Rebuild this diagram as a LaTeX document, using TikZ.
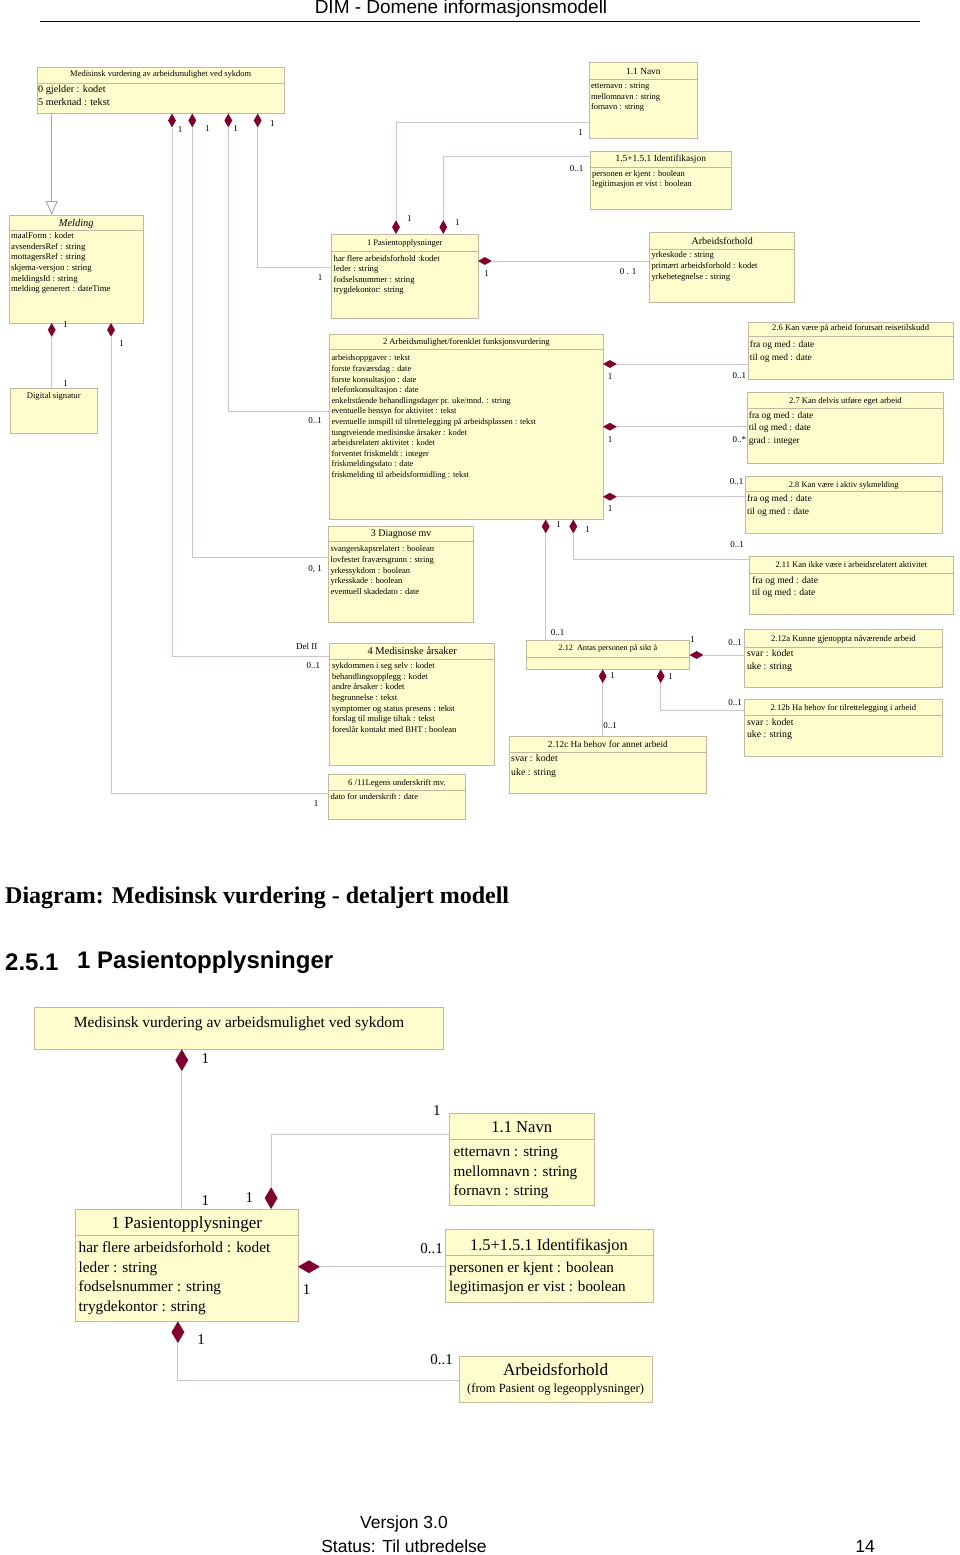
\documentclass[tikz,border=0pt]{standalone}
\usepackage{fontspec}
\setmainfont{Liberation Serif}
\newfontfamily\sansf{Liberation Sans}
\usetikzlibrary{shapes.geometric,calc,arrows.meta}
\definecolor{boxfill}{RGB}{255,253,206}
\definecolor{boxline}{RGB}{196,182,160}
\definecolor{conncol}{RGB}{204,196,202}
\definecolor{diamcol}{RGB}{128,0,48}
\definecolor{gencol}{RGB}{170,160,200}
\newcommand\fsz[1]{\fontsize{#1}{#1}\selectfont}
\newcommand\umlbox[5]{\node[cls,minimum width={(#4)-(#2)},minimum height={(#5)-(#3)}] (#1) at (#2,#3) {};}
\newcommand\divline[2]{\draw[divl] ($(#1.north west)+(0,#2)$) -- ($(#1.north east)+(0,#2)$);}
\newcommand\boxtitle[4]{\node[ttl,font=\fsz{#2}] (#1-t) at ($(#1.north)+(0,#3)$) {#4};}
\newcommand\attrs[6]{\foreach \attxt [count=\i from 0] in {#6} {\node[att,font=\fsz{#2}] (#1-a\i) at ($(#1.north west)+(#3,#4+\i*#5)$) {\attxt};}}
\tikzset{
  cls/.style={draw=boxline,fill=boxfill,line width=0.8pt,inner sep=0pt,anchor=north west},
  divl/.style={draw=boxline,line width=0.8pt},
  conn/.style={draw=conncol,line width=0.9pt},
  dv/.style={diamond,fill=diamcol,draw=none,inner sep=0pt,minimum width=8pt,minimum height=14pt},
  dh/.style={diamond,fill=diamcol,draw=none,inner sep=0pt,minimum width=14pt,minimum height=8pt},
  bdv/.style={diamond,fill=diamcol,draw=none,inner sep=0pt,minimum width=13pt,minimum height=22pt},
  bdh/.style={diamond,fill=diamcol,draw=none,inner sep=0pt,minimum width=22pt,minimum height=13pt},
  lbl/.style={inner sep=0pt,font=\fsz{9}},
  blbl/.style={inner sep=0pt,font=\fsz{15}},
  ttl/.style={inner sep=0pt,anchor=base},
  att/.style={inner sep=0pt,anchor=base west}
}
\begin{document}
\begin{tikzpicture}[x=1pt,y=-1pt]
\useasboundingbox (0,0) rectangle (960,1555);
\fill[white] (0,0) rectangle (960,1555);
% header
\node[inner sep=0pt,font=\sansf\fsz{19}] (hdr) at (461,9) {DIM - Domene informasjonsmodell};
\coordinate (hl) at (40,21);
\coordinate (hr) at (920,21);
\draw[line width=0.8pt] (hl) -- (hr);

% ===== top diagram boxes =====
\umlbox{med}{36.7}{66.7}{284}{113.3}
\divline{med}{16.6}
\boxtitle{med}{8.5}{10}{Medisinsk vurdering av arbeidsmulighet ved sykdom}
\attrs{med}{10.2}{1.3}{25.8}{13.2}{0 gjelder : kodet,5 merknad : tekst}

\umlbox{navn}{589.3}{62.3}{696.7}{138.3}
\divline{navn}{17}
\boxtitle{navn}{9.4}{12}{1.1 Navn}
\attrs{navn}{8.5}{1.5}{26.2}{10.6}{etternavn : string,mellomnavn : string,fornavn : string}

\umlbox{ident}{590}{150.7}{730.7}{209}
\divline{ident}{16.6}
\boxtitle{ident}{9.4}{11}{1.5+1.5.1 Identifikasjon}
\attrs{ident}{8.5}{2}{25.3}{10.4}{personen er kjent : boolean,legitimasjon er vist : boolean}

\umlbox{mel}{9}{215}{142.7}{322.7}
\divline{mel}{15}
\boxtitle{mel}{10.4}{11.5}{\itshape Melding}
\attrs{mel}{8.7}{2}{23.5}{10.66}{maalForm : kodet,avsendersRef : string,mottagersRef : string,skjema-versjon : string,meldingsId : string,melding generert : dateTime}

\umlbox{dig}{10}{387.7}{96.7}{433.3}
\boxtitle{dig}{8.6}{11}{Digital signatur}

\umlbox{pas}{331}{234.3}{477.7}{318.3}
\divline{pas}{16.7}
\boxtitle{pas}{8.5}{11.4}{1 Pasientopplysninger}
\attrs{pas}{8.7}{2.5}{27}{10.5}{har flere arbeidsforhold :kodet,leder : string,fodselsnummer : string,trygdekontor: string}

\umlbox{arb}{649.3}{232.3}{794.3}{302.3}
\divline{arb}{16.7}
\boxtitle{arb}{10}{12}{Arbeidsforhold}
\attrs{arb}{8.6}{2}{25.2}{10.8}{yrkeskode : string,primært arbeidsforhold : kodet,yrkebetegnelse : string}

\umlbox{arbm}{329.3}{334}{602.7}{519.3}
\divline{arbm}{15.3}
\boxtitle{arbm}{8.6}{10.7}{2 Arbeidsmulighet/forenklet funksjonsvurdering}
\attrs{arbm}{8.4}{2}{26.8}{10.6}{arbeidsoppgaver : tekst,forste fraværsdag : date,forste konsultasjon : date,telefonkonsultasjon : date,enkeltstående behandlingsdager pr. uke/mnd. : string,eventuelle hensyn for aktivitet : tekst,eventuelle innspill til tilrettelegging på arbeidsplassen : tekst,tungtveiende medisinske årsaker : kodet,arbeidsrelatert aktivitet : kodet,forventet friskmeldt : integer,friskmeldingsdato : date,friskmelding til arbeidsformidling : tekst}

\umlbox{b26}{747.7}{321.7}{952.7}{379}
\divline{b26}{15}
\boxtitle{b26}{8.6}{9.2}{2.6 Kan være på arbeid forutsatt reisetilskudd}
\attrs{b26}{9.4}{2}{26.1}{12.3}{fra og med : date,til og med : date}

\umlbox{b27}{746.7}{392.3}{943.3}{462.7}
\divline{b27}{16}
\boxtitle{b27}{8.6}{11.2}{2.7 Kan delvis utføre eget arbeid}
\attrs{b27}{9.4}{2}{25.9}{12.7}{fra og med : date,til og med : date,grad : integer}

\umlbox{b28}{745}{475.7}{941.7}{533.3}
\divline{b28}{16}
\boxtitle{b28}{8.4}{11.3}{2.8 Kan være i aktiv sykmelding}
\attrs{b28}{9.4}{2}{26.1}{12.4}{fra og med : date,til og med : date}

\umlbox{b211}{749}{556}{952.7}{614}
\divline{b211}{17.3}
\boxtitle{b211}{8.5}{11.8}{2.11 Kan ikke være i arbeidsrelatert aktivitet}
\attrs{b211}{9.6}{3}{27.5}{12.3}{fra og med : date,til og med : date}

\umlbox{b212}{525.7}{640}{689.3}{669}
\divline{b212}{17.7}
\boxtitle{b212}{8.2}{10.5}{2.12\ \ Antas personen på sikt å}

\umlbox{b212a}{744.3}{629.3}{941.7}{686.7}
\divline{b212a}{18.4}
\boxtitle{b212a}{8.7}{11.7}{2.12a Kunne gjenoppta nåværende arbeid}
\attrs{b212a}{9.8}{2.5}{27.2}{13}{svar : kodet,uke : string}

\umlbox{b212b}{744.3}{699.3}{941.7}{756}
\divline{b212b}{15.7}
\boxtitle{b212b}{8.6}{11.1}{2.12b Ha behov for tilrettelegging i arbeid}
\attrs{b212b}{9.8}{2.5}{25.9}{12.3}{svar : kodet,uke : string}

\umlbox{b212c}{509}{736}{706}{792.7}
\divline{b212c}{16.3}
\boxtitle{b212c}{9.3}{11}{2.12c Ha behov for annet arbeid}
\attrs{b212c}{9.8}{2}{25.5}{13.7}{svar : kodet,uke : string}

\umlbox{b3}{328.3}{525.7}{473.3}{621.7}
\divline{b3}{16}
\boxtitle{b3}{10}{10.8}{3 Diagnose mv}
\attrs{b3}{8.5}{2}{25.8}{10.8}{svangerskapsrelatert : boolean,lovfestet fraværsgrunn : string,yrkessykdom : boolean,yrkesskade : boolean,eventuell skadedato : date}

\umlbox{b4}{329.3}{642.7}{494.3}{764.7}
\divline{b4}{16.6}
\boxtitle{b4}{10.5}{11.3}{4 Medisinske årsaker}
\attrs{b4}{8.6}{2.5}{25.8}{10.67}{sykdommen i seg selv : kodet,behandlingsopplegg : kodet,andre årsaker : kodet,begrunnelse : tekst,symptomer og status presens : tekst,forslag til mulige tiltak : tekst,foreslår kontakt med BHT : boolean}

\umlbox{b611}{328.3}{774}{465}{819.3}
\divline{b611}{16.7}
\boxtitle{b611}{8.7}{11}{6 /11Legens underskrift mv.}
\attrs{b611}{8.5}{2}{25.8}{10.6}{dato for underskrift : date}

% ===== top diagram diamonds =====
\node[dv,anchor=north] (dm1) at (172,113.3) {};
\node[dv,anchor=north] (dm2) at (192.3,113.3) {};
\node[dv,anchor=north] (dm3) at (228.3,113.3) {};
\node[dv,anchor=north] (dm4) at (257.7,113.3) {};
\node[dv,anchor=north] (dme1) at (51.7,322.7) {};
\node[dv,anchor=north] (dme2) at (111,322.7) {};
\node[dv,anchor=south] (dp1) at (396,234.3) {};
\node[dv,anchor=south] (dp2) at (443.3,234.3) {};
\node[dh,anchor=west] (dpr) at (477.7,261) {};
\node[dh,anchor=west] (dr1) at (602.7,364) {};
\node[dh,anchor=west] (dr2) at (602.7,426.7) {};
\node[dh,anchor=west] (dr3) at (602.7,496.7) {};
\node[dv,anchor=north] (db1) at (545.7,519.3) {};
\node[dv,anchor=north] (db2) at (573.3,519.3) {};
\node[dh,anchor=west] (d12r) at (689.3,655) {};
\node[dv,anchor=north] (d12b1) at (602.7,669) {};
\node[dv,anchor=north] (d12b2) at (660.7,669) {};

% ===== top diagram connectors =====
\draw[draw=gencol,line width=0.9pt,-{Triangle[open,length=14pt,width=12pt]}] ($(med.south west)+(15,0)$) -- ($(mel.north west)+(42.7,0)$);
\draw[conn] (dm1.south) |- ($(b4.north west)+(0,14)$);
\draw[conn] (dm2.south) |- ($(b3.north west)+(0,32)$);
\draw[conn] (dm3.south) |- ($(arbm.north west)+(0,77)$);
\draw[conn] (dm4.south) |- ($(pas.north west)+(0,32.7)$);
\draw[conn] (dp1.north) |- ($(navn.north west)+(0,60.4)$);
\draw[conn] (dp2.north) |- ($(ident.north west)+(0,6)$);
\draw[conn] (dpr.east) -- (dpr.east -| arb.west);
\draw[conn] (dme1.south) -- (dme1.south |- dig.north);
\draw[conn] (dme2.south) |- ($(b611.north west)+(0,19.3)$);
\draw[conn] (dr1.east) -- (dr1.east -| b26.west);
\draw[conn] (dr2.east) -- (dr2.east -| b27.west);
\draw[conn] (dr3.east) -- (dr3.east -| b28.west);
\draw[conn] (db2.south) |- ($(b211.north west)+(0,3)$);
\draw[conn] (db1.south) -- (db1.south |- b212.north);
\draw[conn] (d12r.east) -- (d12r.east -| b212a.west);
\draw[conn] (d12b1.south) -- (d12b1.south |- b212c.north);
\draw[conn] (d12b2.south) |- ($(b212b.north west)+(0,11.4)$);

% ===== top diagram multiplicities =====
\node[lbl] (m1) at (180,130) {1};
\node[lbl] (m2) at (207.3,128.3) {1};
\node[lbl] (m3) at (235.7,129) {1};
\node[lbl] (m4) at (272.3,124) {1};
\node[lbl] (m5) at (580.7,132.7) {1};
\node[lbl] (m6) at (576.7,168.3) {0..1};
\node[lbl] (m7) at (409.3,219) {1};
\node[lbl] (m8) at (457.3,222.3) {1};
\node[lbl] (m9) at (320,277.7) {1};
\node[lbl] (m10) at (486.7,274) {1};
\node[lbl] (m11) at (628,271.7) {0 . 1};
\node[lbl] (m12) at (65.7,325) {1};
\node[lbl] (m13) at (65.7,383.3) {1};
\node[lbl] (m14) at (121.7,344) {1};
\node[lbl] (m15) at (315,421) {0..1};
\node[lbl] (m16) at (315,569) {0, 1};
\node[lbl] (m17) at (306.7,646) {Del II};
\node[lbl] (m18) at (313.3,665.7) {0..1};
\node[lbl] (m19) at (316,803.3) {1};
\node[lbl] (m20) at (610,376.7) {1};
\node[lbl] (m21) at (610,440) {1};
\node[lbl] (m22) at (610,508.3) {1};
\node[lbl] (m23) at (739.3,376) {0..1};
\node[lbl] (m24) at (739.3,440) {0..*};
\node[lbl] (m25) at (736.7,481.5) {0..1};
\node[lbl] (m26) at (737,545) {0..1};
\node[lbl] (m27) at (558.7,525) {1};
\node[lbl] (m28) at (587.3,530) {1};
\node[lbl] (m29) at (557.5,632.5) {0..1};
\node[lbl] (m30) at (692.7,640) {1};
\node[lbl] (m31) at (735,642.3) {0..1};
\node[lbl] (m32) at (612.7,676) {1};
\node[lbl] (m33) at (670.7,676.7) {1};
\node[lbl] (m34) at (610,726) {0..1};
\node[lbl] (m35) at (735,702.3) {0..1};

% ===== headings =====
\node[inner sep=0pt,anchor=west,font=\bfseries\fsz{24}] (hd1) at (5,898) {Diagram: Medisinsk vurdering - detaljert modell};
\node[inner sep=0pt,anchor=west,font=\sansf\bfseries\fsz{24}] (hd2a) at (5,962) {2.5.1};
\node[inner sep=0pt,anchor=west,font=\sansf\bfseries\fsz{24}] (hd2b) at (77,962) {1 Pasientopplysninger};

% ===== bottom diagram =====
\umlbox{bmed}{34}{1007.3}{443.3}{1049}
\boxtitle{bmed}{15.5}{20}{Medisinsk vurdering av arbeidsmulighet ved sykdom}

\umlbox{bpas}{75}{1209.3}{297.7}{1321}
\divline{bpas}{25.7}
\boxtitle{bpas}{17}{19.5}{1 Pasientopplysninger}
\attrs{bpas}{15.3}{3.5}{43}{19.8}{har flere arbeidsforhold : kodet,leder : string,fodselsnummer : string,trygdekontor : string}

\umlbox{bnavn}{449}{1113.3}{593.7}{1205}
\divline{bnavn}{25.7}
\boxtitle{bnavn}{16.6}{19.3}{1.1 Navn}
\attrs{bnavn}{15.2}{4.4}{43.2}{19.7}{etternavn : string,mellomnavn : string,fornavn : string}

\umlbox{bident}{444.6}{1229}{652.6}{1301.7}
\divline{bident}{26.7}
\boxtitle{bident}{16.4}{21}{1.5+1.5.1 Identifikasjon}
\attrs{bident}{15.1}{4.4}{43.2}{19.7}{personen er kjent : boolean,legitimasjon er vist : boolean}

\umlbox{barb}{458.6}{1355.7}{651.7}{1402.3}
\boxtitle{barb}{17.2}{20}{Arbeidsforhold}
\node[ttl,font=\fsz{12.5}] (barb-s) at ($(barb.north)+(0,36.5)$) {(from Pasient og legeopplysninger)};

\node[bdv,anchor=north] (bd1) at (181.8,1049) {};
\node[bdv,anchor=south] (bdpt) at (271.1,1209.3) {};
\node[bdh,anchor=west] (bdpr) at (297.7,1266.7) {};
\node[bdv,anchor=north] (bdpb) at (177.9,1321) {};

\draw[conn] (bd1.south) -- (bd1.south |- bpas.north);
\draw[conn] (bdpt.north) |- ($(bnavn.north west)+(0,20.7)$);
\draw[conn] (bdpr.east) -- (bdpr.east -| bident.west);
\draw[conn] (bdpb.south) |- ($(barb.north west)+(0,24.3)$);

\node[blbl] (bl1) at (205.3,1058.3) {1};
\node[blbl] (bl2) at (205.3,1201) {1};
\node[blbl] (bl3) at (249.3,1197.3) {1};
\node[blbl] (bl4) at (436.8,1111) {1};
\node[blbl] (bl5) at (306.5,1290) {1};
\node[blbl] (bl6) at (431.6,1248.3) {0..1};
\node[blbl] (bl7) at (201,1340) {1};
\node[blbl] (bl8) at (441.6,1359.3) {0..1};

% ===== footer =====
\node[inner sep=0pt,font=\sansf\fsz{17.5}] (f1) at (404,1524) {Versjon 3.0};
\node[inner sep=0pt,font=\sansf\fsz{17.5}] (f2) at (404,1546) {Status: Til utbredelse};
\node[inner sep=0pt,font=\sansf\fsz{17.5}] (f3) at (865,1546) {14};
\end{tikzpicture}
\end{document}
